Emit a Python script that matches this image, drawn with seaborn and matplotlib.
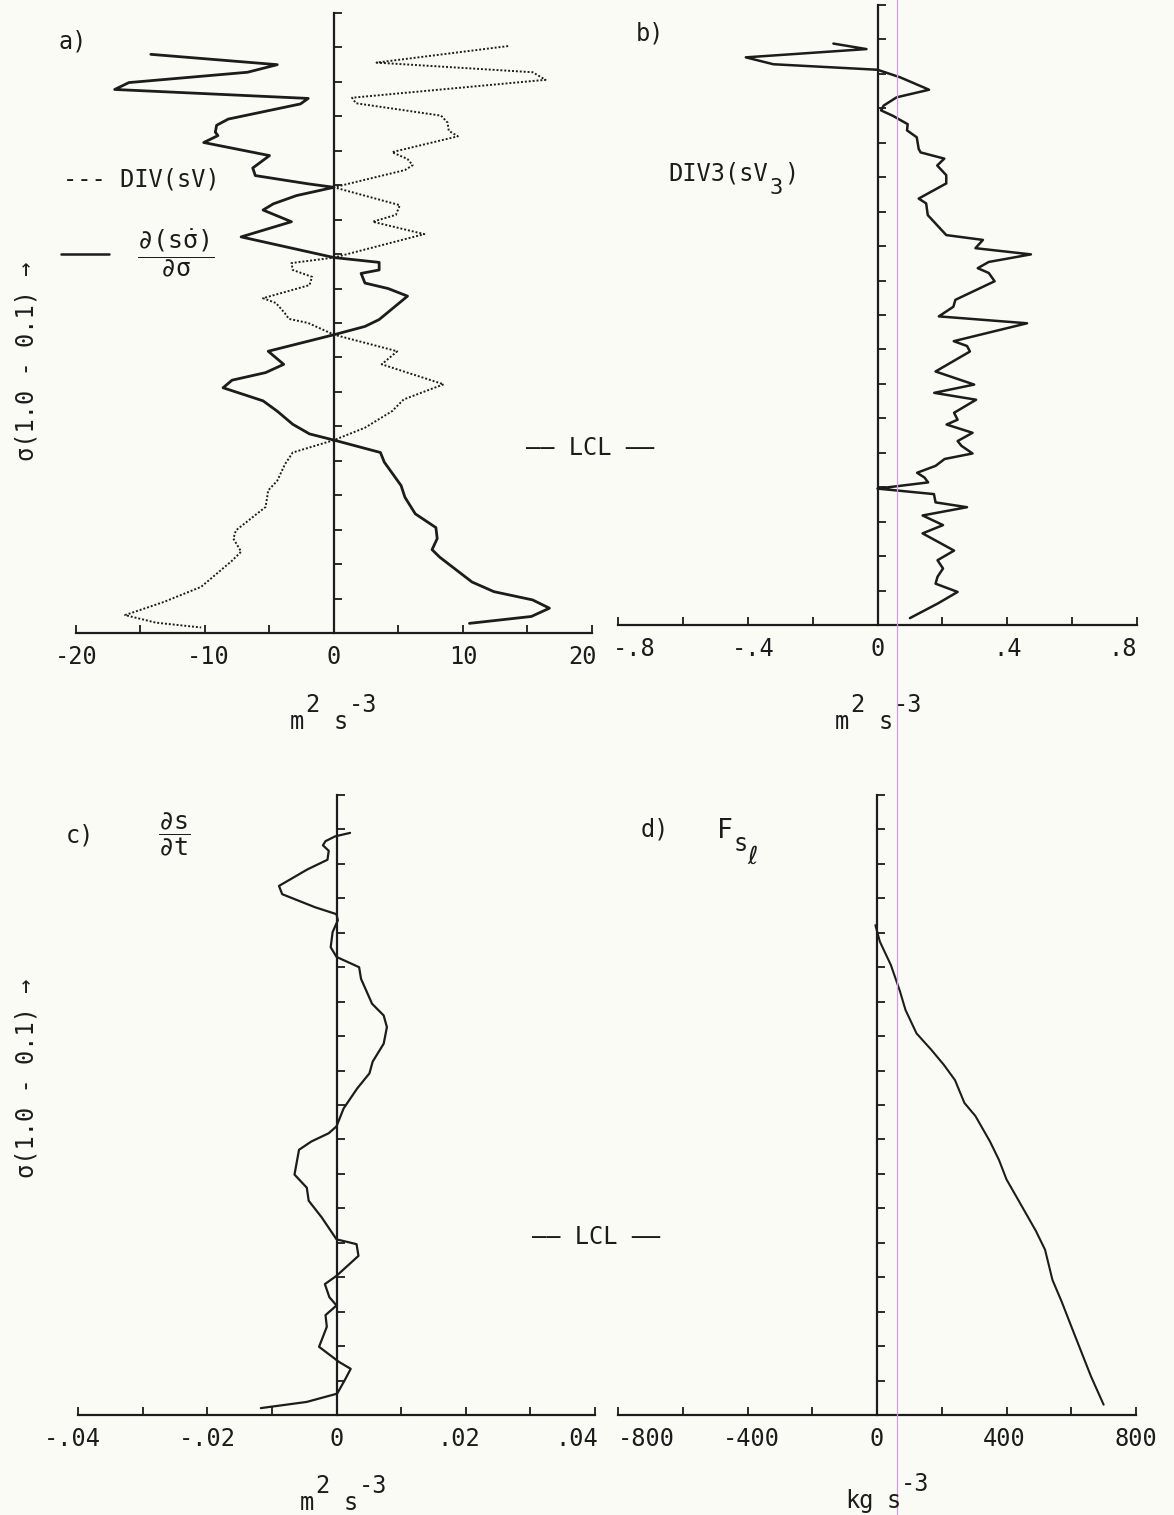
import numpy as np
import matplotlib.pyplot as plt
import matplotlib.transforms as mtransforms
from matplotlib.lines import Line2D
import seaborn as sns

# ---------- datos (sigma de 1.0 abajo a 0.1 arriba) ----------

# a) d(s sigma_dot)/d sigma (solida) y DIV(sV) (punteada), m2 s-3
sig_a_solid = [0.160, 0.175, 0.186, 0.201, 0.211, 0.224, 0.232, 0.254, 0.263, 0.273,
               0.278, 0.288, 0.304, 0.307, 0.325, 0.336, 0.348, 0.353, 0.365, 0.377,
               0.386, 0.403, 0.425, 0.455, 0.462, 0.473, 0.478, 0.492, 0.500, 0.511,
               0.545, 0.555, 0.567, 0.591, 0.610, 0.622, 0.633, 0.644, 0.663, 0.678,
               0.697, 0.711, 0.720, 0.738, 0.752, 0.786, 0.803, 0.827, 0.847, 0.863,
               0.879, 0.890, 0.926, 0.940, 0.952, 0.964, 0.976, 0.986]
val_a_solid = [-14.2, -4.4, -6.7, -15.9, -17.0, -2.0, -2.6, -8.2, -9.1, -9.2,
               -9.0, -10.1, -5.8, -5.0, -6.3, -6.1, -2.0, 0.0, -2.9, -4.7,
               -5.5, -3.3, -7.2, 0.0, 3.5, 3.5, 2.1, 2.4, 4.2, 5.7,
               3.5, 2.4, 0.0, -5.1, -3.9, -5.3, -7.9, -8.6, -5.5, -4.4,
               -3.2, -1.9, 0.0, 3.6, 3.9, 5.2, 5.5, 6.3, 7.9, 8.0,
               7.6, 8.2, 10.7, 12.4, 15.4, 16.7, 15.3, 10.5]

sig_a_div = [0.148, 0.172, 0.186, 0.197, 0.223, 0.231, 0.249, 0.259, 0.271, 0.279,
             0.302, 0.312, 0.321, 0.328, 0.353, 0.379, 0.393, 0.403, 0.421, 0.455,
             0.463, 0.473, 0.483, 0.495, 0.514, 0.521, 0.536, 0.544, 0.550, 0.567,
             0.591, 0.610, 0.639, 0.651, 0.661, 0.678, 0.702, 0.720, 0.738, 0.755,
             0.779, 0.793, 0.817, 0.851, 0.863, 0.882, 0.895, 0.933, 0.955, 0.974,
             0.985, 0.992]
val_a_div = [13.5, 3.3, 15.4, 16.4, 1.4, 1.7, 8.3, 8.8, 8.9, 9.6,
             4.5, 5.7, 6.1, 5.5, 0.0, 5.1, 4.8, 3.0, 7.0, 0.0,
             -3.3, -3.2, -1.7, -1.9, -5.5, -4.5, -3.8, -3.5, -2.0, 0.0,
             4.9, 3.7, 8.5, 6.8, 5.4, 4.5, 2.4, 0.0, -3.2, -3.8,
             -4.4, -5.1, -5.3, -7.6, -7.8, -7.2, -7.9, -10.3, -13.2, -16.2,
             -13.8, -10.3]

# b) DIV3(sV3), m2 s-3
sig_b = [0.156, 0.164, 0.176, 0.186, 0.194, 0.205, 0.223, 0.234, 0.246, 0.253,
         0.261, 0.273, 0.282, 0.292, 0.309, 0.314, 0.323, 0.333, 0.347, 0.359,
         0.381, 0.388, 0.405, 0.434, 0.441, 0.453, 0.462, 0.473, 0.482, 0.489,
         0.501, 0.528, 0.538, 0.552, 0.562, 0.588, 0.595, 0.603, 0.632, 0.651,
         0.663, 0.673, 0.692, 0.702, 0.709, 0.721, 0.733, 0.740, 0.751, 0.759,
         0.769, 0.779, 0.786, 0.793, 0.802, 0.810, 0.822, 0.829, 0.841, 0.855,
         0.867, 0.892, 0.906, 0.918, 0.930, 0.940, 0.952, 0.969, 0.990]
val_b = [-0.136, -0.034, -0.406, -0.321, 0.0, 0.070, 0.159, 0.059, 0.019, 0.011,
         0.048, 0.093, 0.091, 0.121, 0.127, 0.133, 0.206, 0.184, 0.212, 0.212,
         0.127, 0.150, 0.155, 0.212, 0.325, 0.302, 0.473, 0.343, 0.309, 0.343,
         0.361, 0.240, 0.234, 0.189, 0.461, 0.235, 0.276, 0.285, 0.179, 0.298,
         0.175, 0.304, 0.236, 0.247, 0.213, 0.293, 0.247, 0.259, 0.293, 0.207,
         0.179, 0.122, 0.145, 0.156, 0.0, 0.174, 0.179, 0.276, 0.139, 0.202,
         0.139, 0.236, 0.185, 0.202, 0.185, 0.179, 0.247, 0.185, 0.100]

# c) ds/dt, m2 s-3
sig_c = [0.155, 0.160, 0.167, 0.173, 0.181, 0.194, 0.208, 0.232, 0.244, 0.263,
         0.273, 0.282, 0.299, 0.321, 0.335, 0.350, 0.367, 0.386, 0.403, 0.420,
         0.437, 0.461, 0.487, 0.504, 0.526, 0.555, 0.581, 0.591, 0.603, 0.615,
         0.651, 0.670, 0.689, 0.713, 0.745, 0.752, 0.769, 0.798, 0.810, 0.829,
         0.841, 0.855, 0.872, 0.901, 0.923, 0.933, 0.949, 0.969, 0.981, 0.990]
val_c = [0.0021, -0.0002, -0.0017, -0.0021, -0.0012, -0.0014, -0.0045, -0.0089, -0.0084, -0.0033,
         0.0, 0.0002, -0.0006, -0.0009, 0.0, 0.0035, 0.0038, 0.0047, 0.0055, 0.0073,
         0.0078, 0.0073, 0.0056, 0.0051, 0.0032, 0.0011, 0.0, -0.0012, -0.0039, -0.0058,
         -0.0065, -0.0046, -0.0043, -0.0023, 0.0, 0.0031, 0.0034, 0.0, -0.0018, -0.0011,
         0.0, -0.0017, -0.0015, -0.0027, 0.0004, 0.0022, 0.0013, 0.0001, -0.0046, -0.0117]

# d) F_s_l, kg s-3
sig_d = [0.289, 0.313, 0.347, 0.385, 0.412, 0.446, 0.470, 0.492, 0.514, 0.547, 0.566,
         0.603, 0.630, 0.658, 0.695, 0.733, 0.760, 0.804, 0.835, 0.876, 0.944, 0.985]
val_d = [-5, 9, 43, 71, 88, 122, 168, 207, 241, 270, 304,
         349, 377, 400, 445, 491, 519, 542, 570, 604, 661, 700]

# ejes x: marcas y etiquetas
ticks_a = [-20, -15, -10, -5, 0, 5, 10, 15, 20]
labels_a = ["-20", "", "-10", "", "0", "", "10", "", "20"]
ticks_b = [-0.8, -0.6, -0.4, -0.2, 0, 0.2, 0.4, 0.6, 0.8]
labels_b = ["-.8", "", "-.4", "", "0", "", ".4", "", ".8"]
ticks_c = [-0.04, -0.03, -0.02, -0.01, 0, 0.01, 0.02, 0.03, 0.04]
labels_c = ["-.04", "", "-.02", "", "0", "", ".02", "", ".04"]
ticks_d = [-800, -600, -400, -200, 0, 200, 400, 600, 800]
labels_d = ["-800", "", "-400", "", "0", "", "400", "", "800"]
sigma_ticks = [0.10, 0.15, 0.20, 0.25, 0.30, 0.35, 0.40, 0.45, 0.50,
               0.55, 0.60, 0.65, 0.70, 0.75, 0.80, 0.85, 0.90, 0.95]

# ---------- figura ----------

sns.set_theme(style="white")
plt.rcParams['font.family'] = ['DejaVu Sans Mono', 'DejaVu Sans']
plt.rcParams['mathtext.fontset'] = 'custom'
plt.rcParams['mathtext.rm'] = 'DejaVu Sans Mono'
plt.rcParams['mathtext.it'] = 'DejaVu Sans Mono'
plt.rcParams['mathtext.sf'] = 'DejaVu Sans Mono'

W, H = 1174, 1515
ink = '#1c1c1c'
bg = '#fbfbf6'
fig = plt.figure(figsize=(W / 100, H / 100), dpi=100)
fig.patch.set_facecolor(bg)


def px_axes(left, bottom, right, top):
    return fig.add_axes([left / W, 1 - bottom / H, (right - left) / W, (bottom - top) / H])


def ftext(x, y, s, **kw):
    kw.setdefault('ha', 'center')
    kw.setdefault('va', 'center')
    kw.setdefault('fontsize', 17)
    return fig.text(x / W, 1 - y / H, s, color=ink, **kw)


def unit_label(x, base, parts):
    # parts: (texto, desplazamiento x, es_superindice)
    for txt, dx, sup in parts:
        ftext(x + dx, base - (17 if sup else 0), txt, ha='left', va='baseline')


def style_axis(ax, ticks, labels, shifts):
    ax.set_facecolor('none')
    ax.set_xlim(ticks[0], ticks[-1])
    ax.set_ylim(1.0, 0.1)
    ax.spines['top'].set_visible(False)
    ax.spines['right'].set_visible(False)
    ax.spines['left'].set_position(('data', 0))
    for s in ['left', 'bottom']:
        ax.spines[s].set_linewidth(1.6)
        ax.spines[s].set_color(ink)
    ax.set_xticks(ticks)
    ax.set_xticklabels(labels)
    ax.set_yticks(sigma_ticks)
    ax.tick_params(axis='x', bottom=True, direction='in', length=6, width=1.3,
                   color=ink, labelcolor=ink, labelsize=17, pad=9)
    ax.tick_params(axis='y', left=True, direction='in', length=6, width=1.3,
                   color=ink, labelleft=False)
    ax.set_xlabel('')
    ax.set_ylabel('')
    for i, lbl in enumerate(ax.get_xticklabels()):
        dx = shifts.get(i, 0)
        if dx:
            off = mtransforms.ScaledTranslation(dx / 100, 0, fig.dpi_scale_trans)
            lbl.set_transform(lbl.get_transform() + off)


ax_a = px_axes(76, 633, 592, 13)
ax_b = px_axes(618, 625, 1137, 5)
ax_c = px_axes(78, 1415, 595, 795)
ax_d = px_axes(618, 1415, 1136, 795)

sns.lineplot(x=val_a_solid, y=sig_a_solid, ax=ax_a, sort=False, estimator=None,
             color=ink, lw=2.0)
sns.lineplot(x=val_a_div, y=sig_a_div, ax=ax_a, sort=False, estimator=None,
             color=ink, lw=1.4, linestyle=(0, (1, 1.0)))
sns.lineplot(x=val_b, y=sig_b, ax=ax_b, sort=False, estimator=None, color=ink, lw=1.8)
sns.lineplot(x=val_c, y=sig_c, ax=ax_c, sort=False, estimator=None, color=ink, lw=1.6)
sns.lineplot(x=val_d, y=sig_d, ax=ax_d, sort=False, estimator=None, color=ink, lw=1.5)

style_axis(ax_a, ticks_a, labels_a, {2: 3, 8: -10})
style_axis(ax_b, ticks_b, labels_b, {0: 16, 2: 5, 8: -14})
style_axis(ax_c, ticks_c, labels_c, {0: -6, 6: -7, 8: -18})
style_axis(ax_d, ticks_d, labels_d, {0: 28, 2: 4, 6: -2})

# linea tenue del escaneo original
fig.add_artist(Line2D([897 / W, 897 / W], [0, 1], color='#cf9cec', lw=0.9))

# rotulos de paneles
ftext(73, 41, "a)")
ftext(650, 33, "b)")
ftext(80, 835, "c)")
ftext(655, 829, "d)")

# leyenda del panel a
ftext(63, 186, "--- DIV(sV)", ha='left', va='baseline')
fig.add_artist(Line2D([61 / W, 109 / W], [1 - 254 / H, 1 - 254 / H], color=ink, lw=1.8))
ftext(176, 253, r"$\dfrac{\partial(s\dot{\sigma})}{\partial\sigma}$", fontsize=18)

# b) DIV3(sV3)
ftext(668, 180, "DIV3(sV", ha='left', va='baseline')
ftext(770, 194, "3", ha='left', va='baseline', fontsize=16)
ftext(784, 180, ")", ha='left', va='baseline')

# c) ds/dt
ftext(174, 834, r"$\dfrac{\partial s}{\partial t}$", fontsize=18)

# d) F_s_l
ftext(717, 838, "F", ha='left', va='baseline', fontsize=19)
ftext(734, 851, "s", ha='left', va='baseline', fontsize=17)
ftext(747, 864, "ℓ", ha='left', va='baseline', fontsize=18,
      family=['DejaVu Sans', 'DejaVu Sans Mono'], style='italic')

# LCL
ftext(590, 448, "—— LCL ——")
ftext(596, 1237, "—— LCL ——")

# ejes verticales
ftext(27, 361, "σ(1.0 - 0.1) →", rotation=90)
ftext(27, 1078, "σ(1.0 - 0.1) →", rotation=90)

# unidades
m2s3 = [("m", 0, False), ("2", 15, True), ("s", 44, False), ("-3", 59, True)]
unit_label(290, 729, m2s3)
unit_label(835, 729, m2s3)
unit_label(300, 1510, m2s3)
unit_label(845, 1508, [("kg", 0, False), ("s", 42, False), ("-3", 56, True)])

plt.savefig("out.png", dpi=100, facecolor=bg)
